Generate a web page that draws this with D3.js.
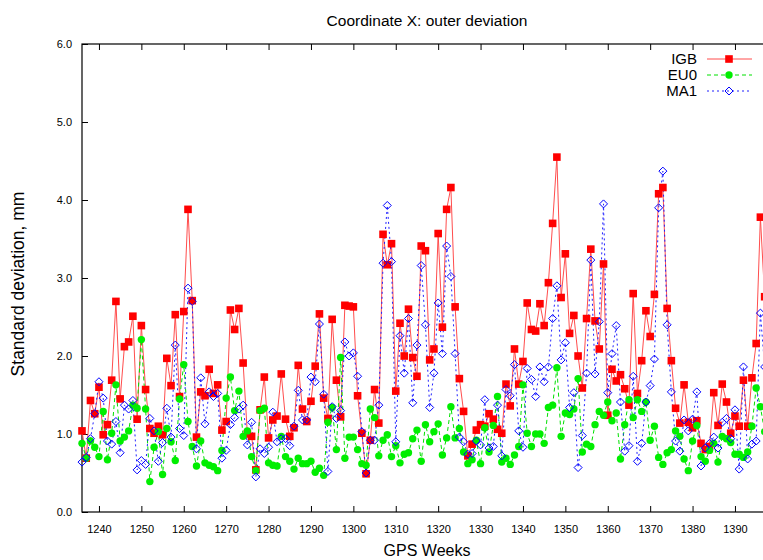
<!DOCTYPE html>
<html><head><meta charset="utf-8">
<script src="https://cdn.jsdelivr.net/npm/d3@7/dist/d3.min.js"></script>
<style>body{margin:0;background:#fff}svg{display:block}text{font-family:"Liberation Sans",Arial,sans-serif}</style>
</head><body><svg id="c" width="763" height="560"></svg>
<script>
const startWeek = 1236;
const igb = [1.04,0.69,1.43,1.26,1.60,0.99,1.12,1.69,2.70,1.45,2.12,2.18,2.51,1.19,2.39,1.57,1.07,1.01,1.10,0.99,
1.97,1.62,2.53,1.48,2.57,3.88,2.71,0.96,1.54,1.49,1.83,1.52,1.63,1.05,1.16,2.59,2.34,2.61,1.91,1.00,
0.97,0.54,1.31,1.73,0.95,1.18,1.23,1.77,1.19,0.97,1.08,1.88,1.32,1.16,1.42,1.87,2.54,1.46,1.20,2.47,
1.69,1.22,2.65,2.64,2.63,1.49,1.01,0.49,0.92,1.57,1.14,3.56,3.17,3.44,1.55,2.42,2.00,2.60,1.98,1.74,
3.41,3.35,1.95,2.09,3.57,2.37,3.88,4.16,2.63,1.71,1.29,0.72,0.87,1.05,1.12,1.10,1.26,1.19,1.06,1.01,
1.64,1.36,2.09,1.64,1.93,2.68,2.34,2.32,2.67,2.39,2.94,3.70,4.55,2.75,3.31,2.29,2.52,2.00,1.59,2.48,
3.37,2.45,2.09,3.18,1.24,1.83,1.68,1.76,1.58,1.37,2.80,1.52,1.94,2.58,2.25,2.79,4.08,4.16,2.61,1.94,
1.33,1.14,1.63,1.15,1.08,1.17,0.88,0.80,0.84,1.53,1.11,1.64,1.41,1.01,1.23,1.10,1.69,1.10,1.72,2.16,
3.78,2.76];
const eu0 = [0.88,0.69,0.91,0.83,0.71,1.29,0.67,1.01,1.63,0.91,0.96,1.04,1.37,1.33,2.21,1.32,0.39,0.83,1.03,0.48,
1.07,0.90,0.66,1.45,1.89,1.16,0.84,0.59,0.91,0.63,0.60,0.58,0.53,0.79,1.46,1.73,1.30,1.55,0.97,1.04,
0.71,0.53,1.30,1.33,0.63,0.60,0.59,0.97,0.71,0.65,0.55,0.69,0.62,0.62,0.65,0.51,0.56,0.47,1.15,1.34,
0.80,1.98,0.69,0.96,0.96,0.80,0.62,0.60,1.32,1.21,0.72,0.92,0.99,0.71,0.85,0.63,0.74,0.76,0.94,1.05,
0.65,1.12,0.90,1.03,1.13,0.73,0.95,1.35,0.95,1.07,0.77,0.62,0.67,0.92,0.62,1.08,0.77,1.11,1.48,0.64,
0.69,0.61,0.73,0.84,1.63,1.01,0.84,1.00,1.00,0.88,1.34,1.37,1.85,0.97,1.27,1.25,1.32,1.71,0.77,0.87,
0.84,1.12,1.29,1.24,1.41,1.17,1.27,0.68,1.12,1.44,1.21,1.44,1.29,1.41,0.92,1.10,0.70,0.61,0.76,0.80,
1.04,0.97,0.68,0.53,0.91,1.11,0.71,0.65,0.79,0.88,0.64,0.97,0.94,0.89,0.74,0.74,0.70,0.77,1.10,1.59,
1.35,1.03];
const ma1 = [0.64,0.70,0.94,1.26,1.67,1.46,0.91,0.87,1.16,0.76,1.37,1.32,1.43,0.54,0.66,0.61,1.20,1.04,0.65,0.89,
1.33,0.96,2.14,1.07,0.98,2.87,2.70,0.81,1.72,1.13,1.54,1.48,1.52,0.69,0.79,1.12,1.21,1.32,1.37,0.86,
1.15,0.45,0.81,0.75,0.83,1.28,0.90,0.94,0.94,0.85,1.10,1.56,1.18,1.18,1.73,1.67,2.41,1.51,0.52,1.35,
1.20,1.30,2.18,2.00,2.04,1.74,1.03,0.50,0.92,0.92,1.37,3.19,3.93,3.21,0.90,2.26,1.78,2.48,1.40,2.14,
3.16,2.40,1.34,1.78,2.68,2.03,3.41,3.02,2.03,0.96,0.90,0.74,0.75,0.91,0.86,1.44,0.82,0.84,1.37,0.72,
1.57,1.49,1.89,1.04,0.83,1.84,1.70,1.48,1.86,1.67,1.86,2.48,2.90,1.95,2.17,1.34,1.53,0.57,0.98,1.78,
3.23,1.77,2.44,3.95,1.53,2.03,2.39,1.41,0.78,0.85,1.74,0.65,0.88,1.41,1.62,1.96,3.90,4.37,2.40,1.54,
0.91,0.78,1.18,1.04,1.19,1.54,0.59,0.82,0.88,0.96,0.82,1.15,1.20,0.94,1.31,0.55,1.86,0.68,0.87,0.91,
2.55,1.86];
const xTicks = [1240,1250,1260,1270,1280,1290,1300,1310,1320,1330,1340,1350,1360,1370,1380,1390];
const yTicks = [0,1,2,3,4,5,6];
const seriesNames = ["IGB","EU0","MA1"];
const title = "Coordinate X: outer deviation";
const xLabel = "GPS Weeks";
const yLabel = "Standard deviation, mm";

const svg = d3.select("#c");
const L = 82, T = 44, B = 512;
const x = d3.scaleLinear().domain([1236, 1400]).range([L, L + 164 * 4.24]);
const y = d3.scaleLinear().domain([0, 6]).range([B, T]);
const R = x(1400);

const styles = [
  {data: igb, line: "#ff4d4d", dash: null, marker: "square", color: "#ff0000"},
  {data: eu0, line: "#00e000", dash: "4,3", marker: "circle", color: "#00ee00"},
  {data: ma1, line: "#2020ff", dash: "2,3", marker: "diamond", color: "#0000ff"}
];

function drawMarker(g, type, cx, cy, color) {
  if (type === "square") {
    g.append("rect").attr("x", cx - 3.8).attr("y", cy - 3.8).attr("width", 7.6).attr("height", 7.6).attr("fill", color);
  } else if (type === "circle") {
    g.append("circle").attr("cx", cx).attr("cy", cy).attr("r", 3.7).attr("fill", color);
  } else {
    const s = 4;
    g.append("path").attr("d", `M${cx},${cy - s}L${cx + s},${cy}L${cx},${cy + s}L${cx - s},${cy}Z`)
      .attr("fill", "none").attr("stroke", color).attr("stroke-width", 1);
  }
}

// frame
svg.append("rect").attr("x", L).attr("y", T).attr("width", R - L).attr("height", B - T)
  .attr("fill", "none").attr("stroke", "#000").attr("stroke-width", 1.2);

// axes ticks
const xb = d3.axisBottom(x).tickValues(xTicks).tickSize(-6).tickPadding(13).tickFormat(d3.format("d"));
const gx = svg.append("g").attr("transform", `translate(0,${B})`).call(xb);
gx.select(".domain").remove();
gx.selectAll("text").attr("font-size", 11).attr("fill", "#000").attr("font-family", "Liberation Sans, Arial, sans-serif");
const xt = d3.axisTop(x).tickValues(xTicks).tickSize(-6).tickFormat("");
const gxt = svg.append("g").attr("transform", `translate(0,${T})`).call(xt);
gxt.select(".domain").remove();
const yl = d3.axisLeft(y).tickValues(yTicks).tickSize(-6).tickPadding(10).tickFormat(d3.format(".1f"));
const gy = svg.append("g").attr("transform", `translate(${L},0)`).call(yl);
gy.select(".domain").remove();
gy.selectAll("text").attr("font-size", 11).attr("fill", "#000").attr("font-family", "Liberation Sans, Arial, sans-serif");
svg.selectAll(".tick line").attr("stroke", "#000");

// series
const line = d3.line().x((d, i) => x(startWeek + i)).y(d => y(d));
styles.forEach(s => {
  svg.append("path").datum(s.data).attr("d", line).attr("fill", "none")
    .attr("stroke", s.line).attr("stroke-width", 1).attr("stroke-dasharray", s.dash);
});
styles.forEach(s => {
  const g = svg.append("g");
  s.data.forEach((v, i) => drawMarker(g, s.marker, x(startWeek + i), y(v), s.color));
});

// legend
const lgY = [59, 75, 91];
seriesNames.forEach((n, i) => {
  const s = styles[i];
  svg.append("text").attr("x", 697).attr("y", lgY[i]).attr("dy", "0.36em").attr("text-anchor", "end")
    .attr("font-size", 15).text(n);
  svg.append("line").attr("x1", 707).attr("x2", 752).attr("y1", lgY[i]).attr("y2", lgY[i])
    .attr("stroke", s.line).attr("stroke-width", 1).attr("stroke-dasharray", s.dash);
  drawMarker(svg, s.marker, 729, lgY[i], s.color);
});

// titles
svg.append("text").attr("x", 427).attr("y", 20).attr("dy", "0.36em").attr("text-anchor", "middle")
  .attr("font-size", 15.5).text(title);
svg.append("text").attr("x", 427).attr("y", 550).attr("dy", "0.36em").attr("text-anchor", "middle")
  .attr("font-size", 16).text(xLabel);
svg.append("text").attr("transform", `translate(18,${(T + B) / 2 + 6}) rotate(-90)`).attr("dy", "0.36em")
  .attr("text-anchor", "middle").attr("font-size", 17.5).text(yLabel);
</script></body></html>
